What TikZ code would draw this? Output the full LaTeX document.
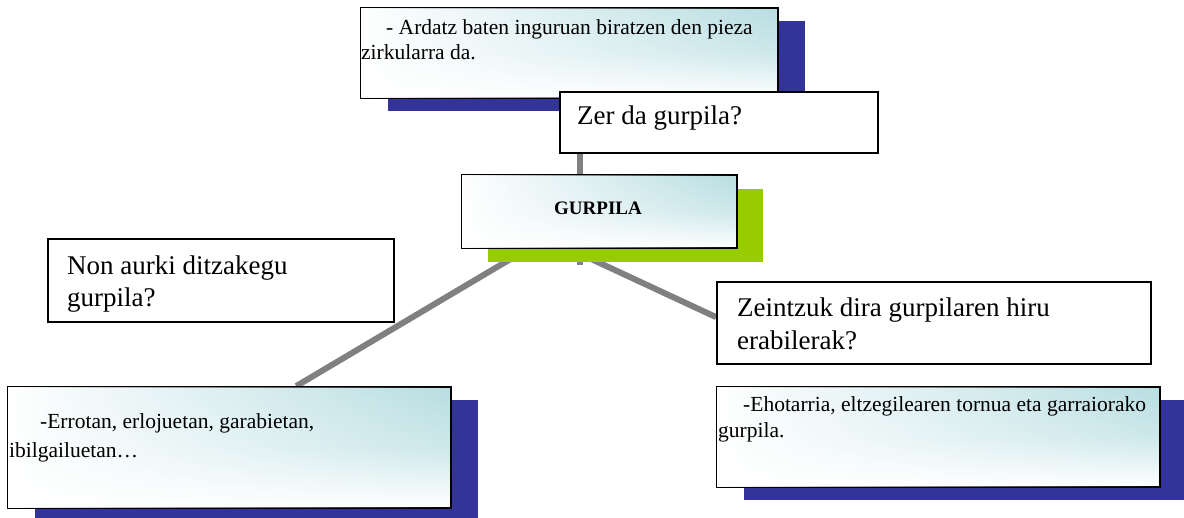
\documentclass[tikz,border=0pt]{standalone}
\usepackage{fontspec}
\setmainfont{Liberation Serif}
\usetikzlibrary{shadows,calc,backgrounds,fadings}
\definecolor{navy}{HTML}{333399}
\definecolor{lime}{HTML}{99CC00}
\definecolor{tealc}{HTML}{B8DEE2}
\definecolor{conn}{HTML}{808080}
\tikzfading[name=whiteleft, left color=transparent!0, middle color=transparent!55, right color=transparent!100]
\newcommand{\fadeleft}[1]{%
  \fill[white, path fading=whiteleft] ([shift={(1,1)}]#1.north west) rectangle ([shift={(-1,-1)}]#1.south east);}
\begin{document}
\begin{tikzpicture}[x=1pt,y=-1pt,
  box/.style={draw=black, line width=1.8pt, rectangle, inner sep=0pt, fill=white},
  gbox/.style={box, top color=tealc, bottom color=white, middle color=tealc!70!white},
  navyshadow/.style={general shadow={fill=navy, shadow xshift=27pt, shadow yshift=-13pt}},
  limeshadow/.style={general shadow={fill=lime, shadow xshift=26pt, shadow yshift=-14pt}},
  connector/.style={draw=conn, line width=6pt},
  qtext/.style={anchor=base west, inner sep=0pt, font=\fontsize{27}{32}\selectfont},
  atext/.style={anchor=base west, inner sep=0pt, font=\fontsize{21.5}{26}\selectfont},
]
\useasboundingbox (0,0) rectangle (1184,518);

% boxes
\node[gbox, navyshadow, minimum width=417pt, minimum height=90pt] (top) at (569.5,53) {};
\fadeleft{top}
\node[box, minimum width=318pt, minimum height=61pt] (zer) at (719,122.5) {};
\node[gbox, limeshadow, minimum width=275pt, minimum height=73pt] (gurp) at (599.5,211.5) {};
\fadeleft{gurp}
\node[box, minimum width=346pt, minimum height=83pt] (non) at (221,280.5) {};
\node[gbox, navyshadow, minimum width=443pt, minimum height=121pt] (bl) at (229.5,447.5) {};
\fadeleft{bl}
\node[box, minimum width=434pt, minimum height=82pt] (zein) at (934,323) {};
\node[gbox, navyshadow, minimum width=443pt, minimum height=100pt] (br) at (938.5,437) {};
\fadeleft{br}

% connectors (behind everything)
\coordinate (hub) at (546,238);
\coordinate (vend) at (580,265);
\begin{scope}[on background layer]
\draw[connector] (zer.south -| vend) -- (vend);
\draw[connector] (hub) -- ($(bl.north west)!0.65!(bl.north east)$);
\draw[connector] (hub) -- ($(zein.north west)!0.43!(zein.south west)$);
\end{scope}

% texts
\node[atext] (t1a) at (386,35) {- Ardatz baten inguruan biratzen den pieza};
\node[atext] (t1b) at (361,60) {zirkularra da.};
\node[qtext] (tzer) at (577,125) {Zer da gurpila?};
\node[anchor=base, inner sep=0pt, font=\fontsize{19}{22}\selectfont\bfseries] (tg) at (598,215) {GURPILA};
\node[qtext] (tn1) at (67,275) {Non aurki ditzakegu};
\node[qtext] (tn2) at (67,307) {gurpila?};
\node[atext] (tb1) at (40,429) {-Errotan, erlojuetan, garabietan,};
\node[atext] (tb2) at (9,457) {ibilgailuetan…};
\node[qtext] (tz1) at (737,317) {Zeintzuk dira gurpilaren hiru};
\node[qtext] (tz2) at (737,350) {erabilerak?};
\node[atext] (tr1) at (743,412) {-Ehotarria, eltzegilearen tornua eta garraiorako};
\node[atext] (tr2) at (718,438) {gurpila.};
\end{tikzpicture}
\end{document}
